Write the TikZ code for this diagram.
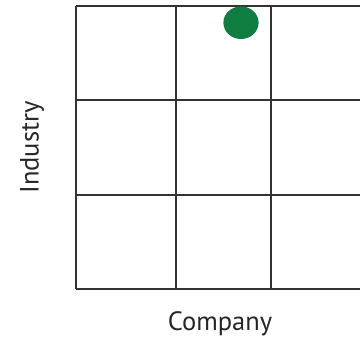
\documentclass[tikz,border=0pt]{standalone}
\usepackage{fontspec}
\setmainfont{PT Sans}
\definecolor{gridc}{HTML}{333333}
\definecolor{dotc}{HTML}{0E7D3F}
\begin{document}
\begin{tikzpicture}[x=1pt,y=-1pt,
  gridline/.style={draw=gridc,line width=2pt},
  lbl/.style={font=\fontsize{26.5}{30}\selectfont,text=black!85,inner sep=0pt}]
\useasboundingbox (0,0) rectangle (360,340);
% horizontal lines
\draw[gridline] (76,6) -- (366,6);
\draw[gridline] (76,100) -- (366,100);
\draw[gridline] (76,195.3) -- (366,195.3);
\draw[gridline] (76,289) -- (366,289);
% vertical lines
\draw[gridline] (76,6) -- (76,289);
\draw[gridline] (176.3,6) -- (176.3,289);
\draw[gridline] (270.7,6) -- (270.7,289);
% dot
\fill[dotc] (241,22.7) ellipse [x radius=17.6, y radius=16.3];
\node[lbl] (company) at (220,324) {Company};
\node[lbl,rotate=90] (industry) at (32,147.5) {Industry};
\end{tikzpicture}
\end{document}
